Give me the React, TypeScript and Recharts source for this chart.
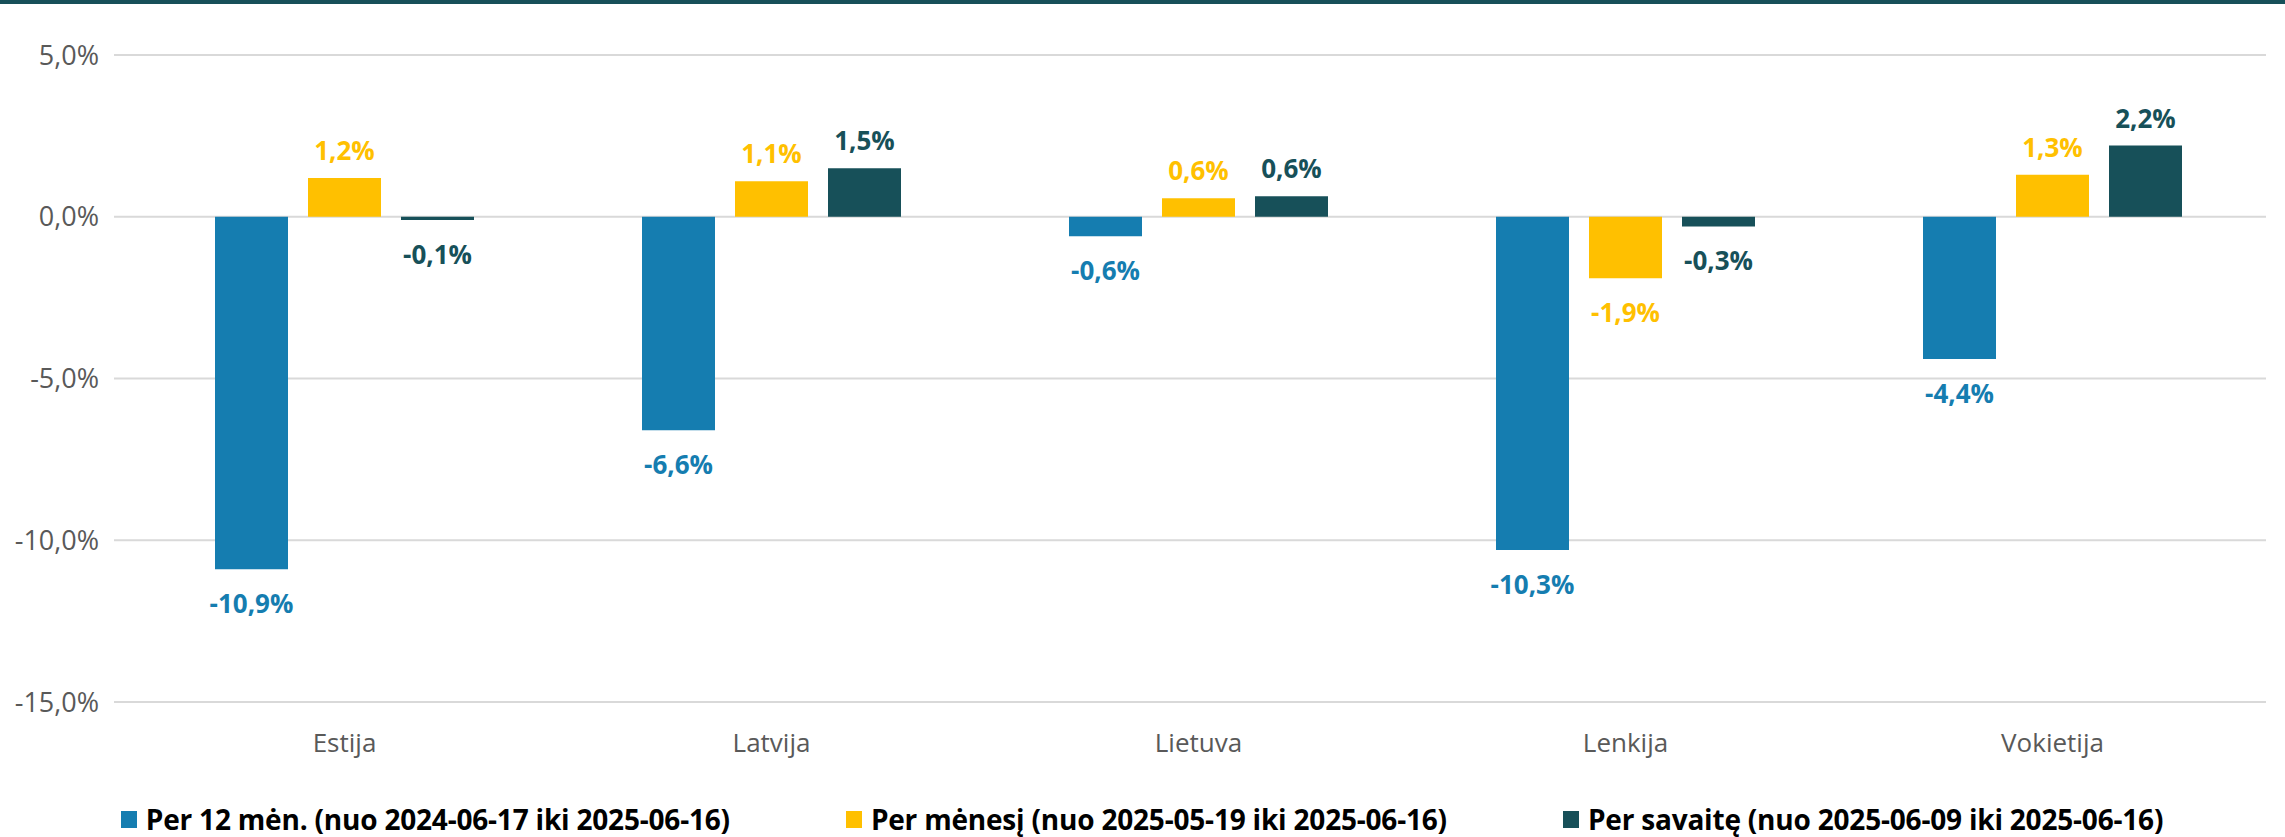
import React from 'react';
import { BarChart, Bar, XAxis, YAxis, CartesianGrid, Legend, LabelList } from 'recharts';

const categories = ['Estija', 'Latvija', 'Lietuva', 'Lenkija', 'Vokietija'];
const per12Men = [-10.9, -6.6, -0.6, -10.3, -4.4];
const perMenesi = [1.2, 1.1, 0.57, -1.9, 1.3];
const perSavaite = [-0.1, 1.5, 0.63, -0.3, 2.2];
const yTicks = [-15, -10, -5, 0, 5];

const seriesNames = [
  'Per 12 mėn. (nuo 2024-06-17 iki 2025-06-16)',
  'Per mėnesį (nuo 2025-05-19 iki 2025-06-16)',
  'Per savaitę (nuo 2025-06-09 iki 2025-06-16)',
];

const BLUE = '#157db0';
const YELLOW = '#ffc000';
const TEAL = '#175059';
const FONT = '"Open Sans", sans-serif';

const fmt = (v: number) => v.toFixed(1).replace('.', ',') + '%';

const chartData = categories.map((name, i) => ({
  name,
  a: per12Men[i],
  b: perMenesi[i],
  c: perSavaite[i],
}));

const makeLabel = (color: string) => (props: any) => {
  const { x, y, width, height, value } = props;
  const top = Math.min(y, y + height);
  const bottom = Math.max(y, y + height);
  const ty = value < 0 ? bottom + 34 : top - 28;
  return (
    <text
      x={x + width / 2}
      y={ty}
      textAnchor="middle"
      dominantBaseline="central"
      fill={color}
      fontFamily={FONT}
      fontWeight={700}
      fontSize={26}
    >
      {fmt(value)}
    </text>
  );
};

const LegendContent = () => {
  const colors = [BLUE, YELLOW, TEAL];
  return (
    <div
      style={{
        height: 36,
        display: 'flex',
        justifyContent: 'center',
        alignItems: 'center',
        gap: 116,
        fontFamily: FONT,
        fontWeight: 700,
        fontSize: 28,
        color: '#000',
        letterSpacing: -0.2,
        paddingLeft: 18,
      }}
    >
      {seriesNames.map((n, i) => (
        <div key={n} style={{ display: 'flex', alignItems: 'center' }}>
          <span style={{ width: 16, height: 17, background: colors[i], marginRight: 9, display: 'inline-block' }} />
          <span>{n}</span>
        </div>
      ))}
    </div>
  );
};

export default function App() {
  return (
    <div style={{ position: 'absolute', left: 0, top: 0, width: 2285, height: 837, background: '#fff' }}>
      <div style={{ position: 'absolute', left: 0, top: 0, width: 2285, height: 4, background: TEAL }} />
      <BarChart
        width={2285}
        height={837}
        data={chartData}
        margin={{ top: 55, right: 19, bottom: 0, left: 0 }}
        barSize={73}
        barGap={20}
      >
        <CartesianGrid vertical={false} stroke="#d9d9d9" strokeWidth={2} />
        <XAxis
          dataKey="name"
          axisLine={false}
          tickLine={false}
          height={99}
          tickMargin={26}
          padding={{ left: 17, right: 0 }}
          tick={{ fill: '#595959', fontSize: 26, fontFamily: FONT }}
        />
        <YAxis
          width={114}
          domain={[-15, 5]}
          ticks={yTicks}
          axisLine={false}
          tickLine={false}
          tickMargin={9}
          tickFormatter={fmt}
          tick={{ fill: '#595959', fontSize: 27, fontFamily: FONT }}
        />
        <Legend verticalAlign="bottom" content={<LegendContent />} />
        <Bar dataKey="a" name={seriesNames[0]} fill={BLUE} isAnimationActive={false}>
          <LabelList dataKey="a" content={makeLabel(BLUE)} />
        </Bar>
        <Bar dataKey="b" name={seriesNames[1]} fill={YELLOW} isAnimationActive={false}>
          <LabelList dataKey="b" content={makeLabel(YELLOW)} />
        </Bar>
        <Bar dataKey="c" name={seriesNames[2]} fill={TEAL} isAnimationActive={false}>
          <LabelList dataKey="c" content={makeLabel(TEAL)} />
        </Bar>
      </BarChart>
    </div>
  );
}
